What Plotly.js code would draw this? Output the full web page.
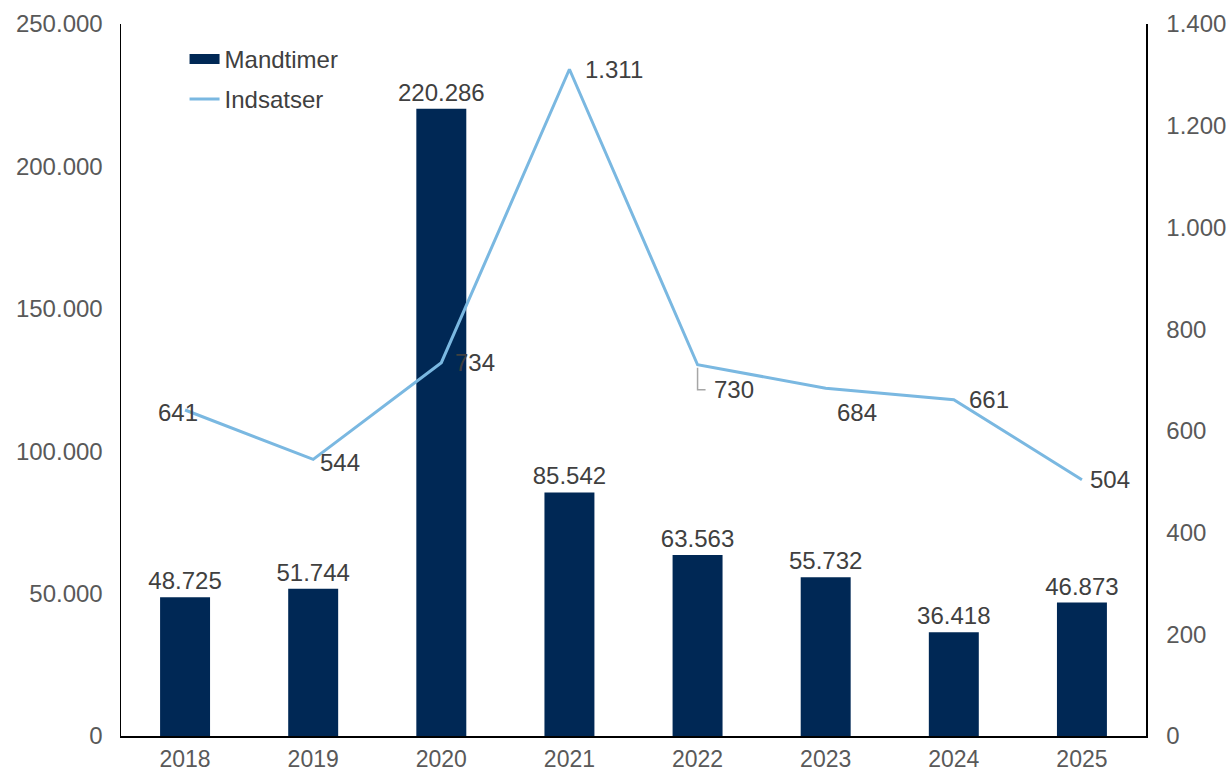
<!DOCTYPE html>
<html>
<head>
<meta charset="utf-8">
<script src="https://cdn.plot.ly/plotly-3.0.1.min.js"></script>
<style>html,body{margin:0;padding:0;background:#fff}#chart{width:1230px;height:774px}</style>
</head>
<body>
<div id="chart"></div>
<script>
const years = ['2018','2019','2020','2021','2022','2023','2024','2025'];
const mandtimer = [48725, 51744, 220286, 85542, 63563, 55732, 36418, 46873];
const indsatser = [641, 544, 734, 1311, 730, 684, 661, 504];

// label offsets (pixels) for the line labels
const labelOffsets = [[-7,-2],[27,-3],[34,0],[45,0],[36,-25],[31,-24],[35,0],[28,0]];

const fontFam = 'Liberation Sans, Arial, sans-serif';
const FS = 24;

function fmt(v) {
  return String(v).replace(/\B(?=(\d{3})+(?!\d))/g, '.');
}

const traces = [
  {
    type: 'bar', name: 'Mandtimer', x: years, y: mandtimer,
    marker: {color: '#002855'}, width: 0.39,
    texttemplate: '%{y:,.0f}', textposition: 'outside', cliponaxis: false, constraintext: 'none',
    textfont: {family: fontFam, size: FS, color: '#404040'},
    showlegend: false
  },
  {
    type: 'scatter', mode: 'lines', name: 'Mandtimer', x: years, y: years.map(() => null),
    line: {color: '#002855', width: 14}, legendgroup: 'a', showlegend: true, hoverinfo: 'skip'
  },
  {
    type: 'scatter', mode: 'lines', name: 'Indsatser', x: years, y: indsatser,
    yaxis: 'y2', line: {color: '#7ab8e1', width: 3},
    legendgroup: 'b'
  }
];

// category axis: annotation x given as category index
const annotations = indsatser.map((v, i) => ({
  x: i, y: v, xref: 'x', yref: 'y2', text: fmt(v),
  showarrow: false, xshift: labelOffsets[i][0], yshift: labelOffsets[i][1],
  font: {family: fontFam, size: FS, color: '#404040'}
}));

const layout = {
  width: 1230, height: 774,
  margin: {l: 121, r: 84, t: 24, b: 38},
  paper_bgcolor: '#fff', plot_bgcolor: '#fff',
  separators: ',.',
  font: {family: fontFam, size: FS, color: '#595959'},
  showlegend: true,
  legend: {x: 0.062, y: 0.982, xanchor: 'left', yanchor: 'top', traceorder: 'grouped', tracegroupgap: 6,
           font: {family: fontFam, size: FS, color: '#404040'}, bgcolor: 'rgba(0,0,0,0)'},
  xaxis: {type: 'category', showline: true, linecolor: '#000', linewidth: 1.5, ticks: '', showgrid: false,
          tickfont: {family: fontFam, size: 23, color: '#595959'}, ticklabelstandoff: 2, range: [-0.5, 7.5]},
  yaxis: {range: [0, 250000], dtick: 50000, tickformat: ',.0f', showgrid: false, zeroline: false,
          showline: true, linecolor: '#000', linewidth: 1.5, ticks: '', ticklabelstandoff: 12,
          tickfont: {family: fontFam, size: FS, color: '#595959'}},
  yaxis2: {range: [0, 1400], dtick: 200, tickformat: ',.0f', overlaying: 'y', side: 'right', showgrid: false,
           zeroline: false, showline: true, linecolor: '#000', linewidth: 1.5, ticks: '', ticklabelstandoff: 14,
           tickfont: {family: fontFam, size: FS, color: '#595959'}},
  annotations: annotations,
  shapes: [{
    type: 'path', xref: 'x', yref: 'y2', xsizemode: 'pixel', ysizemode: 'pixel',
    xanchor: 4, yanchor: indsatser[4],
    path: 'M0,-3 L0,-25 L8,-25', line: {color: '#a6a6a6', width: 1.5}
  }]
};

Plotly.newPlot('chart', traces, layout, {displayModeBar: false, staticPlot: true});
</script>
</body>
</html>
